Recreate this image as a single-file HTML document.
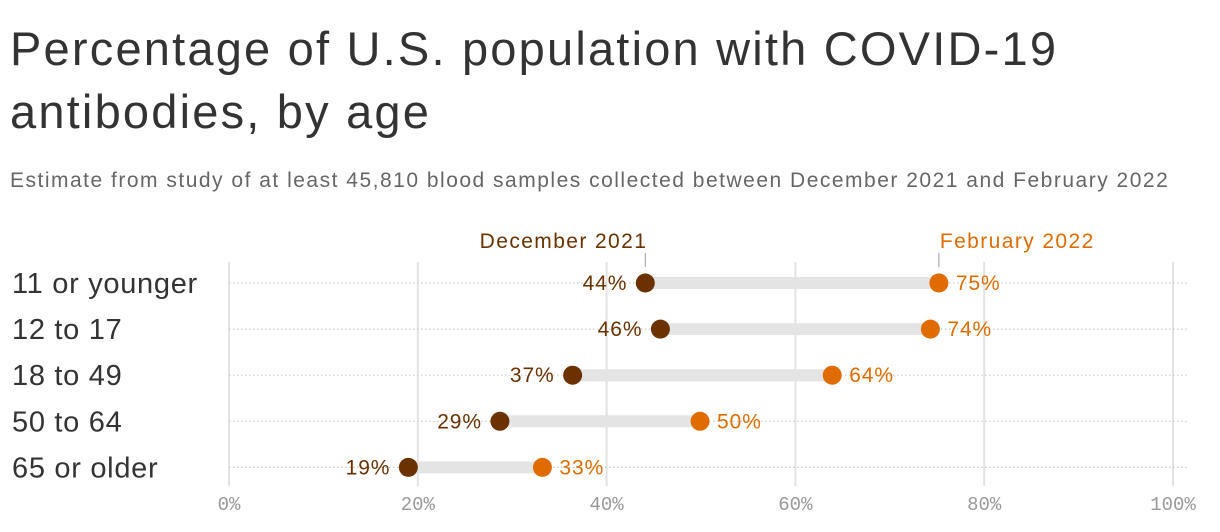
<!DOCTYPE html>
<html><head><meta charset="utf-8"><style>
body{margin:0;width:1220px;height:532px;background:#fff;overflow:hidden;font-family:"Liberation Sans",sans-serif}
h1{position:absolute;left:10px;top:17px;margin:0;font-size:47px;font-weight:normal;line-height:63px;color:#333;letter-spacing:2.2px}
.sub{position:absolute;left:10px;top:169px;font-size:21px;color:#666;letter-spacing:1.5px}
</style></head><body>
<h1>Percentage of U.S. population with COVID-19<br>antibodies, by age</h1>
<div class="sub">Estimate from study of at least 45,810 blood samples collected between December 2021 and February 2022</div>
<svg id="c" width="1220" height="532" style="position:absolute;left:0;top:0"></svg>
<script>
const categories=["11 or younger","12 to 17","18 to 49","50 to 64","65 or older"];
const dec2021=[44.1,45.7,36.4,28.7,19.0];
const feb2022=[75.2,74.3,63.9,49.9,33.2];
const decLabels=["44%","46%","37%","29%","19%"];
const febLabels=["75%","74%","64%","50%","33%"];
const ticks=[0,20,40,60,80,100];
const ns="http://www.w3.org/2000/svg",svg=document.getElementById("c");
const x=v=>229+v*9.44, y=i=>283+i*46.1;
const DK="#6b3200",OR="#e06c00";
function el(t,a,txt){const e=document.createElementNS(ns,t);for(const k in a)e.setAttribute(k,a[k]);if(txt!=null)e.textContent=txt;svg.appendChild(e);return e;}
ticks.forEach(t=>{
 const g=el("line",{x1:x(t),x2:x(t),y1:262,y2:486,stroke:"#e3e3e3","stroke-width":2});
 
 
 const l=el("text",{x:x(t),y:510,"text-anchor":"middle","font-family":"Liberation Mono, monospace","font-size":19,fill:"#999"},t+"%");
 
 
});
categories.forEach((c,i)=>{
 const r=el("line",{x1:229,x2:1188,y1:y(i),y2:y(i),stroke:"#ccc","stroke-width":1.2,"stroke-dasharray":"1.5 2.5"});
 
 
 const lb=el("text",{x:12,y:y(i)+10,"font-size":29,"letter-spacing":0.7,fill:"#333"},c);
 
 
 const b=el("line",{x1:x(dec2021[i]),x2:x(feb2022[i]),y1:y(i),y2:y(i),stroke:"#e4e4e4","stroke-width":12});
 
 
 const d=el("circle",{cx:x(dec2021[i]),cy:y(i),r:9.5,fill:DK});
 
 
 const f=el("circle",{cx:x(feb2022[i]),cy:y(i),r:9.5,fill:OR});
 
 
 const dl=el("text",{x:x(dec2021[i])-18,y:y(i)+7,"text-anchor":"end","font-size":21,"letter-spacing":0.9,fill:DK},decLabels[i]);
 
 
 const fl=el("text",{x:x(feb2022[i])+17,y:y(i)+7,"font-size":21,"letter-spacing":0.9,fill:OR},febLabels[i]);
 
 
});
const l1=el("line",{x1:x(dec2021[0]),x2:x(dec2021[0]),y1:253,y2:267,stroke:"#999"});


const l2=el("line",{x1:x(feb2022[0]),x2:x(feb2022[0]),y1:253,y2:267,stroke:"#999"});


const t1=el("text",{x:x(dec2021[0])+2,y:248,"text-anchor":"end","font-size":21,"letter-spacing":1.4,fill:DK},"December 2021");


const t2=el("text",{x:x(feb2022[0])+1,y:248,"font-size":21,"letter-spacing":1.4,fill:OR},"February 2022");


</script>
</body></html>
